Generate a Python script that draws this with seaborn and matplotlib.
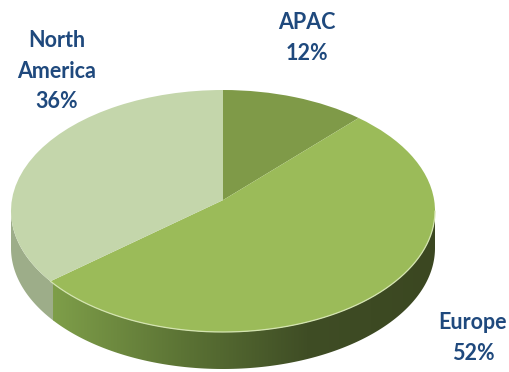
import numpy as np
import matplotlib
matplotlib.use("Agg")
import matplotlib.pyplot as plt
from matplotlib.patches import Polygon
from matplotlib.transforms import Transform
import seaborn as sns

# ---- data ----
regions = ["APAC", "Europe", "North America"]
shares = [12, 52, 36]
label_lines = ["APAC", "Europe", "North\nAmerica"]

top_colors = ["#7f9a48", "#9bbb59", "#c4d6ab"]
side_flat = {"North America": "#9dad89", "APAC": "#6b8239"}
text_color = "#1f497d"

sns.set_theme(style="white")
plt.rcParams['font.family'] = ['Lato', 'DejaVu Sans']

W, H = 510, 372
fig = plt.figure(figsize=(W / 100, H / 100), dpi=100)
fig.patch.set_facecolor("white")
ax = fig.add_axes([0, 0, 1, 1])
ax.set_facecolor("white")

cx, cy, rx, ry = 223, 211, 212, 121
depth = 37 / ry
tilt = 0.09  # perspective: pie centre appears higher than ellipse centre


class Persp(Transform):
    """Disk-preserving projective map (keeps the unit circle, moves centre up)."""
    input_dims = output_dims = 2
    is_separable = False
    has_inverse = False

    def __init__(self, b):
        super().__init__()
        self.b = b

    def transform_non_affine(self, xy):
        xy = np.asarray(xy, dtype=float)
        x, y = xy[:, 0], xy[:, 1]
        d = 1 + self.b * y
        return np.column_stack([x * np.sqrt(1 - self.b ** 2) / d, (y + self.b) / d])


persp = Persp(tilt)


def mapped_angle(deg):
    p = persp.transform_non_affine(np.array([[np.cos(np.radians(deg)), np.sin(np.radians(deg))]]))[0]
    return np.degrees(np.arctan2(p[1], p[0]))


# side walls
total = float(sum(shares))
bounds = 90 - 360 * np.concatenate([[0], np.cumsum(shares)]) / total
euro_cmap = sns.blend_palette(["#7e9e49", "#5c7435", "#3f4d25", "#3b4721"], as_cmap=True)
for i, name in enumerate(regions):
    hi = mapped_angle(bounds[i])
    lo = mapped_angle(bounds[i + 1])
    while hi < lo:
        hi += 360
    pad = 0 if name == "Europe" else 1.5
    for shift in (0, 360, -360, 720):
        a = max(lo + shift - pad, -180)
        b = min(hi + shift + pad, 0)
        if b <= a:
            continue
        t = np.radians(np.linspace(a, b, 200))
        xs = np.cos(t)
        ys = np.sin(t)
        pts = np.vstack([np.column_stack([xs, ys]),
                         np.column_stack([xs[::-1], ys[::-1] - depth])])
        if name == "Europe":
            poly = Polygon(pts, closed=True, facecolor="none", edgecolor="none", zorder=1)
            ax.add_patch(poly)
            grad = np.linspace(0, 1, 256)[None, :]
            im = ax.imshow(grad, cmap=euro_cmap, extent=[-0.8, 1.0, -1.4, 0.1],
                           aspect="auto", zorder=1, interpolation="bilinear")
            im.set_clip_path(poly)
        else:
            ax.add_patch(Polygon(pts, closed=True, facecolor=side_flat.get(name, "#777777"),
                                 edgecolor="none", zorder=0.9))

# top face
wedges, _ = ax.pie(shares, startangle=90, counterclock=False, colors=top_colors,
                   radius=1, center=(0, 0), wedgeprops=dict(linewidth=0, zorder=2),
                   frame=False)
for w in wedges:
    w.set_transform(persp + ax.transData)

# light rim on front edge
a0 = mapped_angle(bounds[2])
t = np.radians(np.linspace(a0, 0, 200))
ax.plot(np.cos(t), np.sin(t), color="#d4e4b0", lw=0.9, zorder=3)

ax.set_aspect("auto")
ax.set_xlim((0 - cx) / rx, (W - cx) / rx)
ax.set_ylim((cy - H) / ry, cy / ry)
ax.axis("off")

# labels (pixel positions of the text blocks)
label_pos = {"APAC": (307, 29), "Europe": (473, 329), "North America": (57, 47)}
line_step = 30.5
for name, lab, v in zip(regions, label_lines, shares):
    x, y0 = label_pos[name]
    lines = lab.split("\n") + [f"{v}%"]
    for k, ln in enumerate(lines):
        fig.text(x / W, 1 - (y0 + k * line_step) / H, ln, ha="center", va="baseline",
                 fontsize=15.5, fontweight="bold", color=text_color)

fig.savefig("out.png", dpi=100, facecolor="white")
